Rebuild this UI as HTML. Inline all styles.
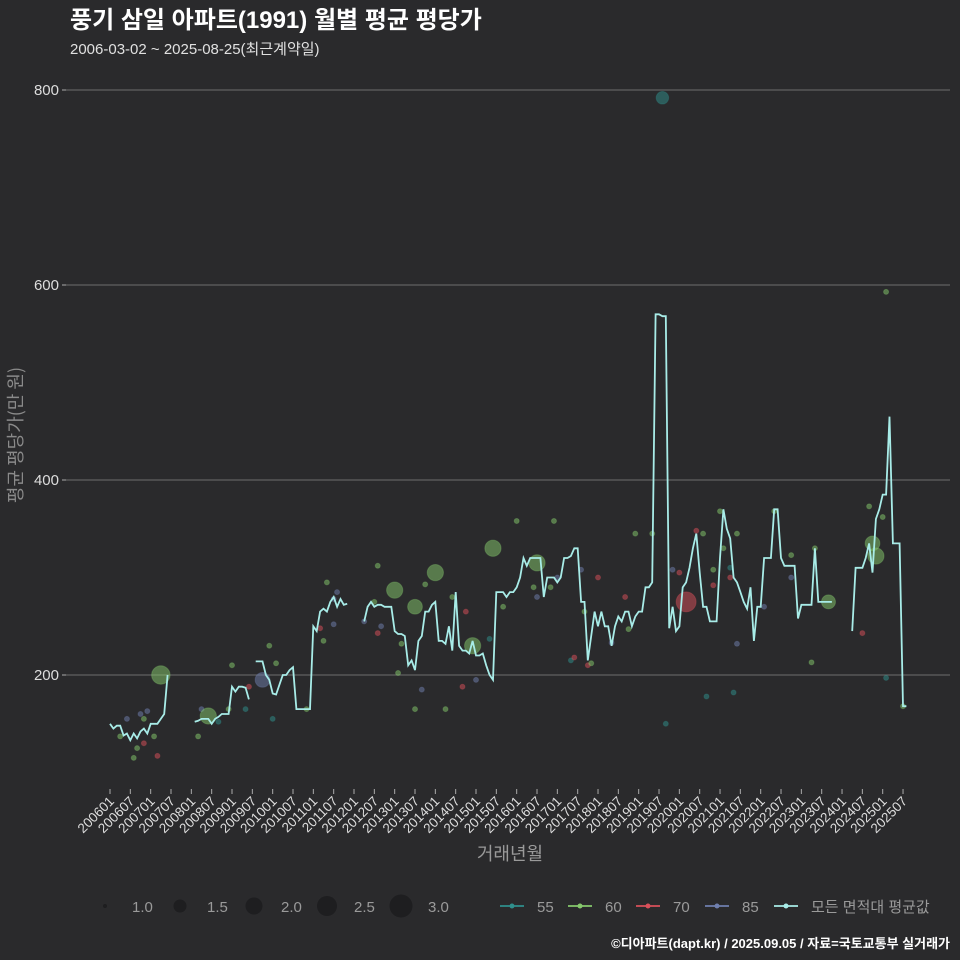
<!DOCTYPE html>
<html><head><meta charset="utf-8">
<style>
body{margin:0;background:#2a2a2c;}
svg{display:block;font-family:"Liberation Sans","Noto Sans CJK KR",sans-serif;}
</style></head>
<body>
<svg id="chart" width="960" height="960" viewBox="0 0 960 960" xmlns="http://www.w3.org/2000/svg">
<rect width="960" height="960" fill="#2a2a2c"/>
<text x="70" y="28" fill="#ffffff" font-size="24" font-weight="bold">풍기 삼일 아파트(1991) 월별 평균 평당가</text>
<text x="70" y="54" fill="#e0e0e0" font-size="15">2006-03-02 ~ 2025-08-25(최근계약일)</text>
<g id="grid"></g>
<g id="yaxis"></g>
<g id="xaxis"></g>
<g id="points"></g>
<g id="line"></g>
<text transform="translate(22,435) rotate(-90)" text-anchor="middle" fill="#8a8a8a" font-size="18" font-family="Noto Sans CJK KR, sans-serif">평균 평당가(만 원)</text>
<text x="510" y="860" text-anchor="middle" fill="#9a9a9a" font-size="18">거래년월</text>
<g id="legend"></g>
<text x="950" y="948" text-anchor="end" fill="#ffffff" font-size="13" font-weight="bold">©디아파트(dapt.kr) / 2025.09.05 / 자료=국토교통부 실거래가</text>
</svg>
<script>
const yTicks=[200,400,600,800];
const xTickLabels=["200601","200607","200701","200707","200801","200807","200901","200907","201001","201007","201101","201107","201201","201207","201301","201307","201401","201407","201501","201507","201601","201607","201701","201707","201801","201807","201901","201907","202001","202007","202101","202107","202201","202207","202301","202307","202401","202407","202501","202507"];
const segStarts=[0,25,43,75,219];
const seg1=[150,145,148,148,138,140,133,140,135,142,145,140,150,150,150,155,160,200];
const seg2=[152,153,155,155,155,150,155,157,160,160,160,188,183,188,188,187,175];
const seg3=[214,214,214,200,195,181,180,190,200,200,205,208,165,165,165,165,165,250,245,265,268,265,275,280,270,278,272,273];
const seg4=[255,270,275,270,272,272,270,270,270,245,242,242,240,210,215,205,235,240,265,265,272,275,235,235,232,250,225,285,230,225,225,222,235,220,220,222,210,200,195,285,285,285,280,285,285,290,300,320,312,320,320,320,320,280,300,300,300,295,300,320,320,322,330,330,275,275,215,240,265,250,265,250,250,230,250,260,255,265,265,250,260,265,265,290,290,295,570,570,568,568,248,270,245,250,290,295,310,330,345,305,270,270,255,255,255,320,370,350,340,300,295,285,275,268,290,235,270,270,320,320,320,370,370,320,312,312,312,312,258,272,272,272,272,330,275,275,275,275,275];
const seg5=[245,310,310,310,320,335,305,360,370,385,385,465,335,335,335,168,168];
const segments=[seg1,seg2,seg3,seg4,seg5];
const scMonth=[3,5,7,8,9,10,10,11,13,14,15,26,27,29,32,35,36,40,41,45,47,48,49,58,62,63,64,66,67,66,75,78,79,79,80,84,85,86,90,90,92,93,96,99,101,104,105,107,108,112,113,116,120,125,126,126,130,131,132,136,137,139,140,141,142,144,148,152,153,155,160,163,164,166,168,170,173,175,176,178,178,180,181,183,183,184,185,185,193,196,201,201,207,208,212,222,224,225,226,228,229,229,234];
const scVal=[137,155,115,125,160,155,130,163,137,117,200,137,165,158,152,165,210,165,188,195,230,155,212,165,248,235,295,278,285,252,255,275,312,243,250,287,202,232,165,270,185,293,305,165,280,188,265,230,195,237,330,270,358,290,315,280,290,358,300,215,218,308,265,210,212,300,233,280,247,345,345,792,150,308,305,275,348,345,178,292,308,368,330,310,300,182,232,345,270,368,323,300,213,330,275,243,373,335,322,362,197,593,168];
const scSize=[1,1,1,1,1,1,1,1,1,1,2.8,1,1,2.5,1,1,1,1,1,2.3,1,1,1,1,1,1,1,1,1,1,1,1,1,1,1,2.5,1,1,1,2.3,1,1,2.5,1,1,1,1,2.5,1,1,2.5,1,1,1,2.5,1,1,1,1,1,1,1,1,1,1,1,1,1,1,1,1,2,1,1,1,3,1,1,1,1,1,1,1,1,1,1,1,1,1,1,1,1,1,1,2.2,1,1,2.3,2.5,1,1,1,1];
const scType=["60","85","60","60","85","60","70","85","60","70","60","60","85","60","55","60","60","55","70","85","60","55","60","60","70","60","60","85","85","85","85","60","60","70","85","60","60","60","60","60","85","60","60","60","60","70","70","60","85","55","60","60","60","60","60","85","60","60","85","55","70","85","60","70","60","70","85","70","60","60","60","55","55","85","70","70","70","60","55","70","60","60","60","55","70","55","85","60","85","60","60","85","60","60","60","70","60","60","60","60","55","60","60"];
const colors={"55":"#2f8f8c","60":"#86c96c","70":"#d9505a","85":"#6f7fae"};
const NS="http://www.w3.org/2000/svg";
const xm=m=>110+m*3.389;
const yv=v=>675-(v-200)*0.975;
function mk(tag,attrs,parent){const e=document.createElementNS(NS,tag);for(const k in attrs)e.setAttribute(k,attrs[k]);parent.appendChild(e);return e;}
const grid=document.getElementById('grid'),yaxis=document.getElementById('yaxis'),xaxis=document.getElementById('xaxis');
yTicks.forEach(t=>{
 const l=mk('line',{x1:65,x2:950,y1:yv(t),y2:yv(t),stroke:'#6e6e6e','stroke-width':1},grid);
 
 
 const tk=mk('line',{x1:62,x2:66,y1:yv(t),y2:yv(t),stroke:'#aaa'},yaxis);
 
 
 const tx=mk('text',{x:59,y:yv(t)+5,'text-anchor':'end',fill:'#dddddd','font-size':15},yaxis);
 tx.textContent=t;
 
 
});
xTickLabels.forEach((lab,i)=>{
 const x=xm(i*6);
 const tk=mk('line',{x1:x,x2:x,y1:789,y2:794,stroke:'#aaa'},xaxis);
 
 
 const tx=mk('text',{transform:`translate(${x+5},${802}) rotate(-45)`,'text-anchor':'end',fill:'#dddddd','font-size':13.5},xaxis);
 tx.textContent=lab;
 
 
});
const pts=document.getElementById('points');
scMonth.forEach((m,i)=>{
 const r=2.5+(scSize[i]-1)*3.75;
 const c=mk('circle',{cx:xm(m),cy:yv(scVal[i]),r:r,fill:colors[scType[i]],'fill-opacity':scSize[i]>1?0.5:0.5,stroke:colors[scType[i]],'stroke-opacity':0.3},pts);
 
 
});
const lg=document.getElementById('line');
segments.forEach((s,si)=>{
 const d=s.map((v,j)=>(j?'L':'M')+xm(segStarts[si]+j).toFixed(1)+','+yv(v).toFixed(1)).join(' ');
 const p=mk('path',{d:d,fill:'none',stroke:'#a8ece8','stroke-width':1.8},lg);
 
 
});
const leg=document.getElementById('legend');
const sizeLabels=["1.0","1.5","2.0","2.5","3.0"];
const sx=[105,180,254,327,401],sr=[2,6.5,8.5,10,11.5];
sizeLabels.forEach((l,i)=>{
 const c=mk('circle',{cx:sx[i],cy:906,r:sr[i],fill:'#1e1e20'},leg);
 
 
 const t=mk('text',{x:sx[i]+27,y:912,fill:'#9a9a9a','font-size':15},leg);
 t.textContent=l;
 
 
});
const cl=[["55",colors["55"],500],["60",colors["60"],568],["70",colors["70"],636],["85",colors["85"],705],["모든 면적대 평균값","#a8ece8",774]];
cl.forEach(e=>{
 const l=mk('line',{x1:e[2],x2:e[2]+24,y1:906,y2:906,stroke:e[1],'stroke-width':1.8},leg);
 
 
 const c=mk('circle',{cx:e[2]+12,cy:906,r:2.5,fill:e[1]},leg);
 
 
 const t=mk('text',{x:e[2]+37,y:912,fill:'#9a9a9a','font-size':15},leg);
 t.textContent=e[0];
 
 
});
</script>
</body></html>
